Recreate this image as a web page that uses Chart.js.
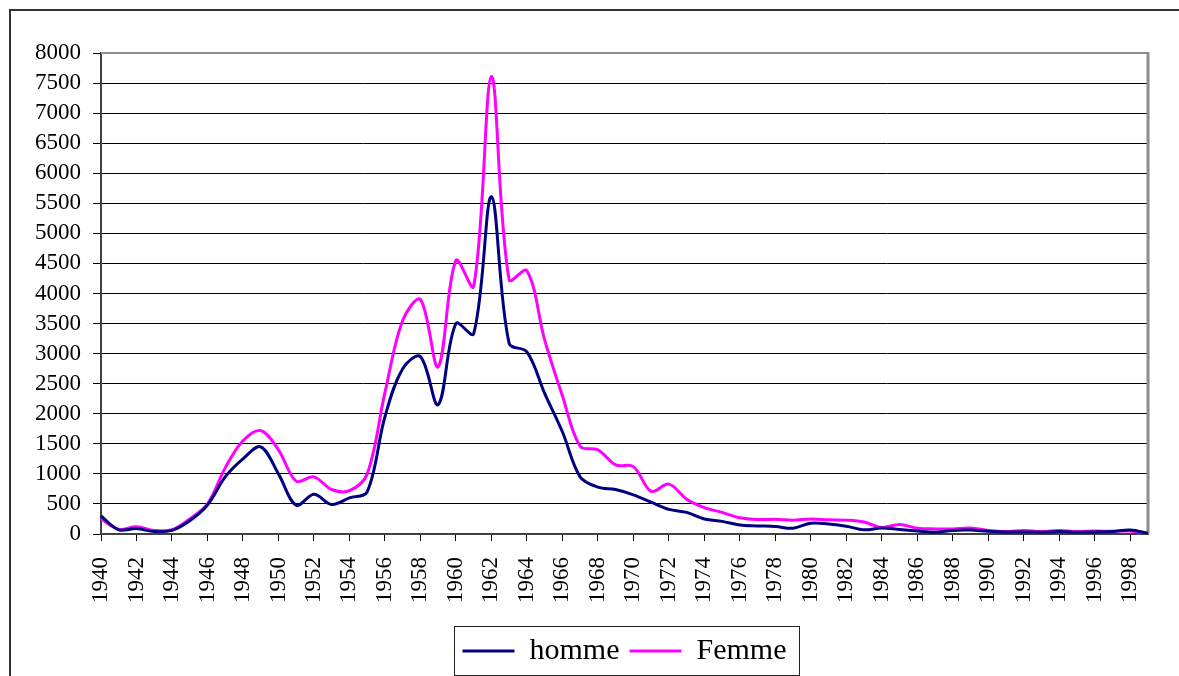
<!DOCTYPE html>
<html>
<head>
<meta charset="utf-8">
<title>homme / Femme 1940-1999</title>
<script src="https://cdn.jsdelivr.net/npm/chart.js@4/dist/chart.umd.min.js"></script>
<style>
    html, body { margin: 0; padding: 0; background: #fff; }
    #chart { display: block; }
</style>
</head>
<body>
<canvas id="chart" width="1179" height="676"></canvas>
<script>
// years on the x axis
const years = [];
for (let y = 1940; y <= 1999; y++) years.push(String(y));

// only every second year gets a label
const tickLabels = years.map(y => (Number(y) % 2 === 0 ? y : ''));

const homme = [
    300, 70, 90, 40, 60, 220, 480, 950, 1250, 1450,
    1000, 480, 660, 490, 600, 700, 1950, 2750, 2950, 2150,
    3500, 3330, 5610, 3170, 3030, 2340, 1700, 950, 780, 740,
    650, 530, 410, 360, 250, 210, 150, 135, 125, 95,
    180, 165, 130, 70, 100, 75, 50, 30, 60, 65,
    45, 35, 35, 30, 40, 30, 35, 40, 65, 10
];

const femme = [
    250, 80, 120, 60, 70, 250, 500, 1100, 1550, 1720,
    1400, 880, 950, 740, 720, 1000, 2350, 3550, 3900, 2780,
    4550, 4120, 7610, 4230, 4380, 3230, 2300, 1460, 1400, 1150,
    1120, 710, 830, 580, 440, 360, 270, 240, 245, 230,
    250, 235, 230, 200, 110, 160, 95, 85, 85, 100,
    60, 40, 60, 40, 60, 40, 50, 45, 50, 5
];

const serif = '"Liberation Serif", "Times New Roman", serif';

document.addEventListener('DOMContentLoaded', function () {
    const ctx = document.getElementById('chart').getContext('2d');

    // white page, outer frame (left + top), plot frame (top + right)
    const frames = {
        id: 'frames',
        beforeDraw(chart) {
            const c = chart.ctx;
            c.save();
            c.fillStyle = '#fff';
            c.fillRect(0, 0, chart.width, chart.height);
            c.strokeStyle = '#333';
            c.lineWidth = 2;
            c.beginPath();
            c.moveTo(10, chart.height);
            c.lineTo(10, 10);
            c.lineTo(chart.width, 10);
            c.stroke();
            c.restore();
        },
        beforeDatasetsDraw(chart) {
            const a = chart.chartArea;
            const c = chart.ctx;
            c.save();
            c.strokeStyle = '#8c8c8c';
            c.lineWidth = 2;
            c.beginPath();
            c.moveTo(a.left, a.top);
            c.lineTo(a.right, a.top);
            c.stroke();
            c.lineWidth = 3;
            c.beginPath();
            c.moveTo(a.right, a.top - 1);
            c.lineTo(a.right, a.bottom);
            c.stroke();
            c.restore();
        },
        afterDraw(chart) {
            // box around the legend
            const boxes = chart.legend && chart.legend.legendHitBoxes;
            if (!boxes || !boxes.length) return;
            const first = boxes[0];
            const last = boxes[boxes.length - 1];
            const c = chart.ctx;
            c.save();
            c.strokeStyle = '#222';
            c.lineWidth = 1;
            const x0 = Math.round(first.left - 9) + 0.5;
            const x1 = Math.round(last.left + last.width + 13) + 0.5;
            const y0 = Math.round(first.top - 10) + 0.5;
            const y1 = Math.round(first.top + first.height + 9) + 0.5;
            c.strokeRect(x0, y0, x1 - x0, y1 - y0);
            c.restore();
        }
    };

    new Chart(ctx, {
        type: 'line',
        data: {
            labels: years,
            datasets: [{
                label: 'homme',
                data: homme,
                borderColor: '#000080',
                backgroundColor: '#000080',
                borderWidth: 3,
                pointRadius: 0,
                tension: 0.35,
                fill: false,
            }, {
                label: 'Femme',
                data: femme,
                borderColor: '#ff00ff',
                backgroundColor: '#ff00ff',
                borderWidth: 3,
                pointRadius: 0,
                tension: 0.35,
                fill: false,
            }]
        },
        options: {
            responsive: false,
            animation: false,
            devicePixelRatio: 1,
            layout: {
                padding: { left: 0, top: 53, right: 31, bottom: 0 }
            },
            plugins: {
                tooltip: { enabled: false },
                legend: {
                    position: 'bottom',
                    fullSize: false,
                    labels: {
                        color: '#000',
                        font: { family: serif, size: 30 },
                        usePointStyle: true,
                        pointStyle: 'line',
                        pointStyleWidth: 52,
                        padding: 10,
                    }
                }
            },
            scales: {
                x: {
                    offset: false,
                    afterFit: function (scale) {
                        scale.height = 92;
                        scale.paddingLeft = 0;
                        scale.paddingRight = 0;
                    },
                    grid: {
                        drawOnChartArea: false,
                        tickLength: 7,
                        tickColor: (c) => (c.index % 2 === 0 ? '#000' : 'rgba(0,0,0,0)'),
                    },
                    border: { color: '#404040', width: 2 },
                    ticks: {
                        autoSkip: false,
                        minRotation: 90,
                        maxRotation: 90,
                        padding: 16,
                        color: '#000',
                        font: { family: serif, size: 23 },
                        callback: (v, i) => tickLabels[i],
                    }
                },
                y: {
                    min: 0,
                    max: 8000,
                    afterFit: function (scale) {
                        scale.width = 101;
                        scale.paddingTop = 0;
                        scale.paddingBottom = 0;
                    },
                    grid: {
                        color: '#000',
                        lineWidth: 1,
                        tickLength: 8,
                        tickColor: '#000',
                    },
                    border: { color: '#404040', width: 2 },
                    ticks: {
                        stepSize: 500,
                        autoSkip: false,
                        padding: 12,
                        color: '#000',
                        font: { family: serif, size: 23 },
                        callback: (v) => String(v),
                    }
                }
            }
        },
        plugins: [frames]
    });
});
</script>
</body>
</html>
